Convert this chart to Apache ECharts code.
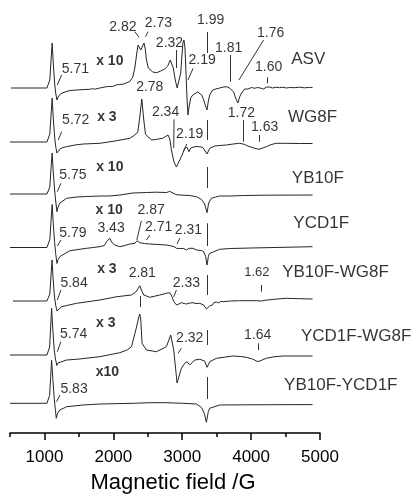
<!DOCTYPE html>
<html><head><meta charset="utf-8">
<script src="https://cdn.jsdelivr.net/npm/echarts@6/dist/echarts.min.js"></script>
<style>html,body{margin:0;padding:0;background:#fff}#c{width:420px;height:494px}</style>
</head><body><div id="c"></div>
<script>
// ---- data (field in G, intensity in a.u. relative to each trace baseline) ----
const traceNames = ['ASV','WG8F','YB10F','YCD1F','YB10F-WG8F','YCD1F-WG8F','YB10F-YCD1F'];
const gainText = ['x 10','x 3','x 10','x 10','x 3','x 3','x10'];
const offsets = [345, 291, 239, 185.5, 132, 78, 29.7];
const majorTicks = [1000, 2000, 3000, 4000, 5000];
const minorTicks = [500, 1500, 2500, 3500, 4500];

const asv = [[514,0],[1036,0],[1060,1.5],[1078,8],[1095,27],[1112,45],[1128,25],[1148,5],[1163,-5],[1182,-12],[1198,-9],[1225,-6.5],[1268,-4.7],[1370,-2.5],[1471,-2],[1560,-1.6],[1659,-1.3],[1700,-0.6],[1732,-1.2],[1760,-0.4],[1804,0],[1830,-0.6],[1848,0.6],[1877,0.4],[1900,1.3],[1920,0.7],[1949,1.5],[1978,2.3],[1993,1.6],[2022,2.6],[2051,3.2],[2080,2.8],[2094,3.5],[2123,4.3],[2150,4],[2167,5],[2196,5.3],[2239,6.5],[2268,8],[2283,11],[2312,20],[2341,35],[2359,43],[2377,41],[2399,38],[2413,40],[2446,45],[2466,38],[2481,28],[2507,20],[2529,18],[2573,16],[2630,15.3],[2688,17],[2746,19],[2790,22],[2826,28],[2843,30],[2870,20],[2899,8],[2927,0],[2949,2],[2978,15],[2993,30],[3010,45],[3025,48],[3040,40],[3055,15],[3069,-10],[3084,-27],[3101,-18],[3123,-10],[3152,-7],[3181,-5],[3225,-4],[3254,-5],[3283,-7],[3312,-12],[3334,-17],[3360,-22],[3377,-14],[3399,-7],[3442,-2],[3471,-2.5],[3486,-1],[3515,-1.5],[3543,0],[3572,-0.5],[3601,1],[3630,0.5],[3645,1.3],[3688,0],[3717,-1.5],[3746,-4],[3775,-10],[3809,-15],[3833,-9],[3862,-5],[3906,-1],[3930,-0.3],[3954,-1],[3978,0],[4007,0.5],[4051,-0.3],[4094,0.5],[4130,0],[4181,-1],[4196,-0.5],[4220,0.8],[4239,0.3],[4268,1],[4312,0],[4365,0.8],[4413,0.3],[4461,0.8],[4510,0],[4558,0.5],[4630,0.3],[4703,0.8],[4775,0.2],[4848,0.6],[4891,0.5]];

const wg8f = [[500,0],[1036,0],[1060,1.5],[1078,8],[1095,26],[1112,44],[1128,24],[1148,5],[1163,-4.5],[1182,-11],[1198,-9],[1225,-7],[1268,-5.5],[1322,-4.7],[1441,-3],[1562,-2],[1804,-1.3],[2051,1.3],[2239,3.7],[2312,7],[2355,10],[2384,25],[2413,43],[2442,22],[2466,8],[2500,5.3],[2558,2],[2630,2.7],[2717,3.7],[2746,4.5],[2794,7],[2820,3],[2843,-8],[2880,-20],[2916,-25],[2950,-20],[2988,-14.7],[3036,-6.3],[3069,-5.3],[3098,-9.7],[3123,-6],[3157,-5.3],[3200,-4.5],[3254,-4.7],[3300,-5.5],[3326,-7.3],[3360,-12],[3399,-6.3],[3471,-4],[3560,-3.4],[3640,-3],[3740,-2],[3833,-1.3],[3900,-2.3],[3954,-4],[4040,-6],[4113,-7.3],[4170,-6],[4220,-4.7],[4290,-2.6],[4365,-1.3],[4510,-1.3],[4700,-1.5],[4891,-1.5]];

const yb10f = [[500,0],[1036,0],[1060,1.5],[1078,7],[1095,25],[1112,41],[1128,22],[1148,4],[1163,-7],[1182,-17.7],[1198,-13],[1225,-9],[1254,-7.3],[1322,-4.3],[1467,-3],[1612,-2.5],[1804,-2],[1949,-2],[2094,-1],[2283,1],[2481,1.5],[2626,1.8],[2771,1.5],[2819,2.6],[2848,1.3],[2906,-0.5],[2964,-1],[3109,-1.5],[3206,-2.7],[3278,-5.3],[3326,-10],[3360,-18.7],[3384,-9],[3423,-4.3],[3486,-3],[3543,-2],[3700,-2],[3900,-1.5],[4200,-1.2],[4891,-1]];

const ycd1f = [[500,0],[1036,0],[1060,1.5],[1078,8],[1095,26],[1112,43],[1128,24],[1148,5],[1163,-6],[1182,-16],[1198,-12],[1225,-9],[1249,-7.5],[1370,-3.2],[1612,-0.8],[1804,0.8],[1870,2],[1901,5.8],[1949,9.2],[1978,5],[2022,2.5],[2094,0.8],[2167,2],[2239,3.5],[2312,4.2],[2345,6.8],[2384,4.8],[2450,4],[2529,3.5],[2650,3],[2771,2.5],[2880,1],[2916,-0.8],[2940,0.2],[2964,-1],[2990,0],[3020,-1],[3061,-2.5],[3100,-0.8],[3157,-0.8],[3206,-2.5],[3280,-3],[3312,-4.2],[3340,-9],[3360,-17.5],[3380,-9],[3395,-6],[3423,-4.2],[3543,-1.8],[3700,-1],[4000,-0.5],[4891,0.8]];

const yb10fWg8f = [[543,0],[1036,0],[1060,1.5],[1078,7],[1095,25],[1110,41],[1126,22],[1146,4],[1163,-4],[1182,-10],[1198,-8],[1249,-5.7],[1467,-2.3],[1804,1],[2051,4.3],[2264,6],[2326,9],[2355,12],[2384,15.3],[2413,10],[2442,6],[2471,4],[2529,3.7],[2674,6],[2771,7.7],[2819,8.3],[2848,5],[2877,-0.7],[2920,-4],[2988,-1.7],[3030,-2.5],[3061,-3],[3110,-2],[3157,-1.7],[3200,-2.6],[3254,-2.3],[3312,-4],[3351,-8],[3399,-5],[3420,-3],[3440,-4],[3460,-1.5],[3480,-3],[3500,-1],[3530,-2],[3560,-0.5],[3591,-0.7],[3700,0],[3833,0.3],[4075,0.3],[4148,0],[4200,0.7],[4350,1.8],[4510,2.7],[4700,2.3],[4891,2]];

const ycd1fWg8f = [[500,0],[1036,0],[1058,1.5],[1075,8],[1090,28],[1104,46.7],[1122,25],[1142,5],[1160,-4],[1180,-10.5],[1196,-8],[1225,-6],[1322,-5],[1467,-4.3],[1804,-1.7],[2094,2.3],[2200,5],[2264,8.3],[2326,25],[2370,38],[2384,41],[2399,35],[2417,11.7],[2481,5],[2626,3.3],[2771,8.3],[2833,20],[2877,5],[2925,-28],[2988,-13.3],[3036,-8.3],[3069,-6.7],[3109,-10],[3181,-5],[3254,-4.3],[3326,-6],[3360,-12.3],[3399,-6.7],[3496,-3.3],[3736,-1],[3850,-1.5],[3930,-2.3],[4020,-4],[4099,-6.7],[4160,-5],[4220,-3.3],[4330,-1.8],[4461,-1],[4891,-1]];

const yb10fYcd1f = [[500,0],[1036,0],[1058,1.5],[1075,8],[1090,26],[1104,43],[1122,24],[1142,5],[1158,-6],[1172,-15],[1190,-10],[1225,-6.7],[1322,-3.4],[1562,-1.7],[1804,-0.7],[2283,0],[2529,0.6],[2771,0.6],[3007,0],[3206,-0.7],[3278,-4],[3320,-10],[3351,-19],[3380,-8],[3399,-5],[3543,-1.7],[3900,-1.5],[4891,-1.3]];

const traces = [asv, wg8f, yb10f, ycd1f, yb10fWg8f, ycd1fWg8f, yb10fYcd1f];

// g-value labels: [trace, text, field, height above trace baseline]
const gLabels = [
 [0,'5.71',1449,18.5],[0,'2.82',2138,61.3],[0,'2.73',2655,64.7],[0,'2.32',2815,44.7],[0,'2.19',3290,28],[0,'1.99',3413,68],[0,'1.81',3674,39.7],[0,'1.76',4283,54.7],[0,'1.60',4254,21.3],
 [1,'5.72',1454,22],[1,'2.78',2529,55.3],[1,'2.34',2758,30.3],[1,'2.19',3109,8],[1,'1.72',3858,28.7],[1,'1.63',4196,15.3],
 [2,'5.75',1413,19],
 [3,'5.79',1413,14.2],[3,'3.43',1967,19.2],[3,'2.87',2548,37.5],[3,'2.71',2657,20.8],[3,'2.31',3091,17.5],
 [4,'5.84',1430,17.7],[4,'2.81',2420,27.7],[4,'2.33',3061,17.7],[4,'1.62',4083,28.5],
 [5,'5.74',1423,21.2],[5,'2.32',3109,16.7],[5,'1.64',4094,20],
 [6,'5.83',1430,14.3]
];
// pointer lines: [trace, field1, h1, field2, h2]
const gTicks = [
 [0,1249,13,1186,3],[0,2312,56.3,2374,50.7],[0,2504,56.3,2467,51.3],[0,2913,38,2913,20],[0,3157,19.7,3084,8],[0,3360,56,3360,35],[0,3699,33,3699,6.3],[0,4181,48,3823,8],[0,4235,10.7,4235,4.7],
 [1,1249,10.3,1200,2],[1,2881,22.7,2877,-6],[1,3065,-2,3022,-9],[1,3360,22,3360,2],[1,3881,22,3881,0.3],[1,4123,7,4123,0.3],
 [2,1239,10.7,1186,2.3],[2,3360,27,3360,6],
 [3,1239,7.5,1188,1.5],[3,2406,26.5,2341,7.5],[3,2529,12.5,2481,7.5],[3,2964,9.2,2925,3.5],[3,3360,24.2,3360,1.5],
 [4,1239,11,1186,1],[4,2384,5,2384,-6],[4,2916,11,2877,4.3],[4,3360,26,3360,6],[4,4148,16,4148,9.3],
 [5,1239,13.3,1186,3.3],[5,2988,6.7,2939,1.7],[5,3360,25,3360,10],[5,4099,11.7,4099,5],
 [6,1225,8.3,1177,1.6],[6,3360,26.3,3360,4.3]
];
const namePos = [[4829,28.8],[4891,24.5],[4968,16],[5017,24],[5225,28.5],[5525,19],[5302,18.3]];
const gainPos = [[1949,27.2],[1906,25.3],[1949,27.3],[1939,37.5],[1906,32],[1891,31.7],[1913,31.6]];

// ---- chart ----
const FONT = "'Liberation Sans', Arial, sans-serif";
const chart = echarts.init(document.getElementById('c'), null, {renderer:'canvas'});
const series = [];
traces.forEach((pts, i) => {
  series.push({
    type:'line', name: traceNames[i], showSymbol:false, silent:true, smooth:false,
    lineStyle:{color:'#262626', width:1},
    data: pts.map(p => [p[0], p[1] + offsets[i]])
  });
});
series.push({
  type:'lines', coordinateSystem:'cartesian2d', silent:true, polyline:false,
  lineStyle:{color:'#333', width:1, opacity:1},
  data: gTicks.map(t => ({coords:[[t[1], t[2] + offsets[t[0]]],[t[3], t[4] + offsets[t[0]]]]}))
});
function textSeries(items, style) {
  return {
    type:'scatter', silent:true, clip:false, symbol:'circle', symbolSize:1,
    itemStyle:{color:'transparent'},
    label:Object.assign({show:true, position:'inside', color:'#000', fontFamily:FONT,
      formatter: p => p.data.t}, style),
    data: items
  };
}
series.push(textSeries(gLabels.map(g => ({value:[g[2], g[3] + offsets[g[0]]], t:g[1],
  label: g[1] === '1.62' ? {fontSize:13} : undefined})), {fontSize:14}));
series.push(textSeries(gainPos.map((g,i) => ({value:[g[0], g[1] + offsets[i]], t:gainText[i]})), {fontSize:14, fontWeight:'bold'}));
series.push(textSeries(namePos.map((g,i) => ({value:[g[0], g[1] + offsets[i]], t:traceNames[i]})), {fontSize:17}));

chart.setOption({
  animation:false,
  backgroundColor:'#fff',
  grid:{left:10, right:100, top:0, bottom:61, containLabel:false, outerBoundsMode:'none'},
  xAxis:[{
    type:'value', min:500, max:5000, position:'bottom',
    axisLine:{show:true, lineStyle:{color:'#000', width:1.5}},
    axisTick:{show:true, customValues:majorTicks, length:7, lineStyle:{color:'#000', width:1.5}},
    axisLabel:{show:true, customValues:majorTicks, margin:16, fontSize:17, color:'#000', fontFamily:FONT,
      formatter: v => String(v)},
    splitLine:{show:false},
    name:'Magnetic field /G', nameLocation:'middle', nameGap:39,
    nameTextStyle:{fontSize:22, color:'#000', fontFamily:FONT, padding:[0,0,0,16]}
  },{
    type:'value', min:500, max:5000, position:'bottom', offset:0,
    axisLine:{show:false},
    axisTick:{show:true, customValues:minorTicks, length:4, lineStyle:{color:'#000', width:1.5}},
    axisLabel:{show:false}, splitLine:{show:false}
  }],
  yAxis:{type:'value', min:0, max:433, show:false},
  series: series
});
</script>
</body></html>
